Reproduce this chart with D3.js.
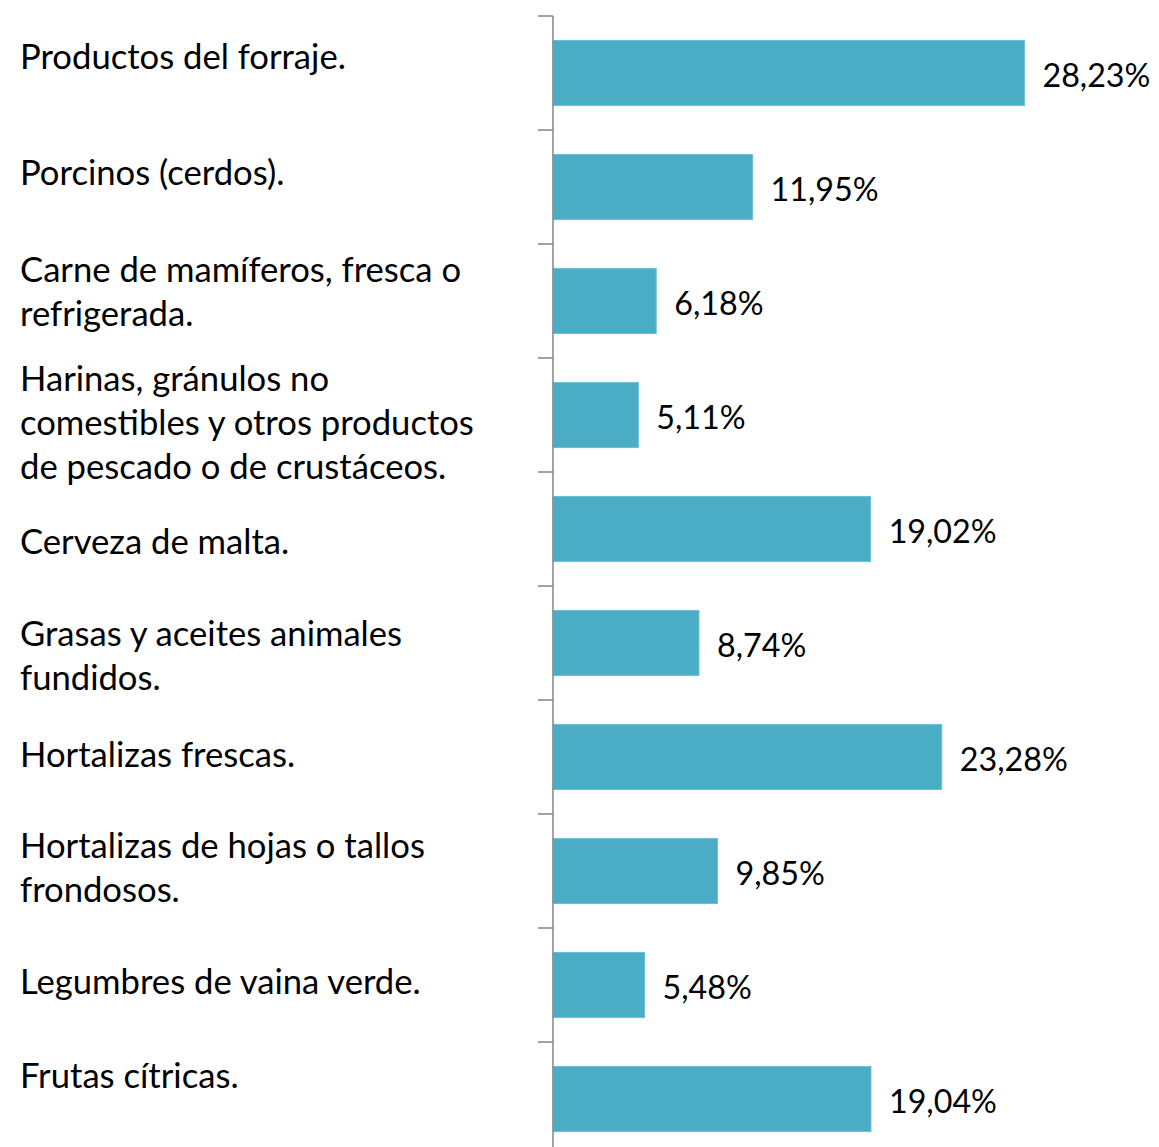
<!DOCTYPE html>
<html>
<head>
<meta charset="utf-8">
<script src="https://cdn.jsdelivr.net/npm/d3@7/dist/d3.min.js"></script>
<style>
  html, body { margin: 0; padding: 0; background: #ffffff; }
  svg { display: block; }
  text { font-family: Lato, "Open Sans", sans-serif; fill: #000000; }
</style>
</head>
<body>
<svg id="chart" width="1159" height="1147"></svg>
<script>
// ---- data ----
const categories = [
  "Productos del forraje.",
  "Porcinos (cerdos).",
  "Carne de mamíferos, fresca o refrigerada.",
  "Harinas, gránulos no comestibles y otros productos de pescado o de crustáceos.",
  "Cerveza de malta.",
  "Grasas y aceites animales fundidos.",
  "Hortalizas frescas.",
  "Hortalizas de hojas o tallos frondosos.",
  "Legumbres de vaina verde.",
  "Frutas cítricas."
];
// wrapped lines as they appear in the category axis
const categoryLines = [
  ["Productos del forraje."],
  ["Porcinos (cerdos)."],
  ["Carne de mamíferos, fresca o", "refrigerada."],
  ["Harinas, gránulos no", "comestibles y otros productos", "de pescado o de crustáceos."],
  ["Cerveza de malta."],
  ["Grasas y aceites animales", "fundidos."],
  ["Hortalizas frescas."],
  ["Hortalizas de hojas o tallos", "frondosos."],
  ["Legumbres de vaina verde."],
  ["Frutas cítricas."]
];
const values = [28.23, 11.95, 6.18, 5.11, 19.02, 8.74, 23.28, 9.85, 5.48, 19.04];
const valueLabels = ["28,23%", "11,95%", "6,18%", "5,11%", "19,02%", "8,74%", "23,28%", "9,85%", "5,48%", "19,04%"];

// ---- layout ----
const axisX = 553, axisMax = 30, axisMaxX = 1054;
const topY = 16, band = 114;
const barColor = "#4BACC6";
const axisColor = "#8c8c8c";
const lineGap = 44;
// first-line baseline offset of each category label, relative to band centre (Excel's own label placement)
const labelDy = [-5, -3, -20, -25, 24, 2, 9, -14, 8, -12];

const svg = d3.select("#chart");

const y = d3.scaleBand()
  .domain(categories)
  .range([topY, topY + band * categories.length])
  .paddingInner(0)
  .paddingOuter(0);

const x = d3.scaleLinear().domain([0, axisMax]).range([axisX, axisMaxX]);

// fit font sizes so the text metrics resemble the original (Calibri-like)
function fitSize(str, target) {
  const p = svg.append("text").attr("font-size", 36).text(str);
  const w = p.node().getComputedTextLength();
  p.remove();
  return Math.max(28, Math.min(36, 36 * target / w));
}
const fontSize = fitSize("Productos del forraje.", 326);
const valueFontSize = fitSize("28,23%", 108);

// bars
const barH = y.bandwidth() / 1.75;
svg.append("g").selectAll("rect")
  .data(values)
  .join("rect")
  .attr("x", x(0))
  .attr("y", (d, i) => y(categories[i]) + (y.bandwidth() - barH) / 2)
  .attr("width", d => x(d) - x(0))
  .attr("height", barH)
  .attr("fill", barColor)
  .attr("stroke", "#6cc0d6")
  .attr("stroke-width", 1);

// category axis (ticks on the left, no labels)
const tickVals = categories.map(c => y(c));
const axisG = svg.append("g");
axisG.append("line")
  .attr("x1", axisX).attr("x2", axisX)
  .attr("y1", topY).attr("y2", 1147)
  .attr("stroke", axisColor).attr("stroke-width", 1.6);
axisG.selectAll("line.tick")
  .data(tickVals)
  .join("line")
  .attr("class", "tick")
  .attr("x1", axisX - 15).attr("x2", axisX)
  .attr("y1", d => d).attr("y2", d => d)
  .attr("stroke", axisColor).attr("stroke-width", 1.6);

// category labels
const labelG = svg.append("g");
categoryLines.forEach((lines, i) => {
  const cy = y(categories[i]) + y.bandwidth() / 2 + labelDy[i] + 1;
  const t = labelG.append("text")
    .attr("x", 20)
    .attr("y", cy)
    .attr("font-size", fontSize);
  lines.forEach((ln, j) => {
    t.append("tspan").attr("x", 20).attr("y", cy + j * lineGap).text(ln);
  });
});

// value labels
svg.append("g").selectAll("text")
  .data(values)
  .join("text")
  .attr("x", d => x(d) + 18)
  .attr("y", (d, i) => y(categories[i]) + y.bandwidth() / 2 + 14)
  .attr("font-size", valueFontSize)
  .text((d, i) => valueLabels[i]);
</script>
</body>
</html>
